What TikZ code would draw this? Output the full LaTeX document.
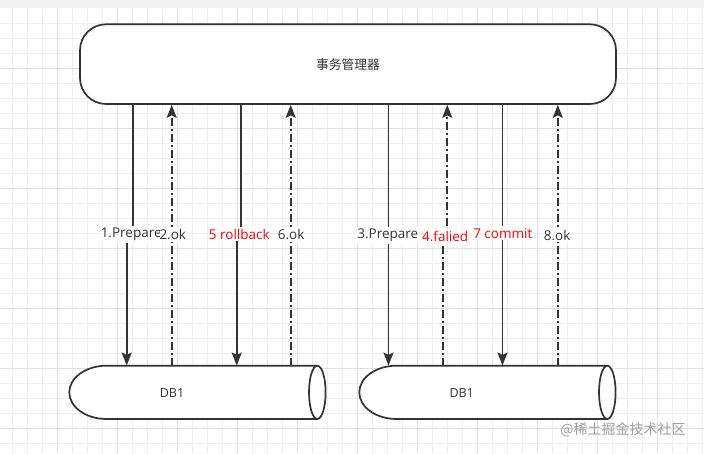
\documentclass[tikz,border=0pt]{standalone}
\usepackage{fontspec}
\setmainfont{Open Sans}
\newfontfamily\cjk{Noto Sans CJK SC}
\usetikzlibrary{arrows.meta}
\definecolor{ln}{HTML}{333333}
\definecolor{txt}{HTML}{333333}
\definecolor{rd}{HTML}{FF0000}
\definecolor{gmin}{HTML}{EEEEEE}
\definecolor{gmaj}{HTML}{E0E0E0}
\definecolor{band}{HTML}{F0F0F0}
\definecolor{wmc}{HTML}{A0A0A0}
\begin{document}
\begin{tikzpicture}[x=1pt,y=-1pt,
  shp/.style={draw=ln, line width=1.7pt, fill=white},
  solidarr/.style={draw=ln, line width=1.8pt, -{Stealth[length=13pt,width=10pt,inset=2.5pt]}},
  dasharr/.style={solidarr, dash pattern=on 8pt off 3pt on 2pt off 3pt},
  lbl/.style={fill=white, inner xsep=0pt, inner ysep=2pt, font=\fontsize{13.5}{15}\selectfont, text=txt},
  rlbl/.style={lbl, text=rd},
  dbtext/.style={inner sep=0pt, font=\fontsize{12.5}{14}\selectfont, text=txt},
]
\useasboundingbox (0,0) rectangle (704,453);
% background and grid
\fill[white] (0,0) rectangle (704,453);
\fill[band] (0,0) rectangle (704,8.3);
\foreach \x in {12.3,27.3,...,703} \draw[gmin, line width=1pt] (\x,8.3) -- (\x,453);
\foreach \y in {23.3,38.3,...,453} \draw[gmin, line width=1pt] (0,\y) -- (704,\y);
\foreach \x in {57.3,117.3,...,703} \draw[gmaj, line width=1pt] (\x,8.3) -- (\x,453);
\foreach \y in {68.3,128.3,...,453} \draw[gmaj, line width=1pt] (0,\y) -- (704,\y);
% transaction manager
\node[shp, rounded corners=26pt, minimum width=536pt, minimum height=79.7pt, inner sep=0pt,
      font=\cjk\fontsize{12.8}{14}\selectfont, text=txt] (tm) at (348,64.15) {事务管理器};
% databases (bounds) and their shapes
\node[minimum width=248pt, minimum height=53.3pt, inner sep=0pt] (db1) at (193.3,392.35) {};
\node[minimum width=248pt, minimum height=53.3pt, inner sep=0pt] (db2) at (483.3,392.35) {};
\draw[shp] (317.3,365.7) -- (106.5,365.7) arc[start angle=270, end angle=90, x radius=37.2, y radius=26.65] -- (317.3,419);
\draw[shp] (317.3,392.35) ellipse[x radius=8.3, y radius=26.65];
\draw[shp] (607.3,365.7) -- (396.5,365.7) arc[start angle=270, end angle=90, x radius=37.2, y radius=26.65] -- (607.3,419);
\draw[shp] (607.3,392.35) ellipse[x radius=8.3, y radius=26.65];
\node[dbtext] (db1t) at (172,393) {DB1};
\node[dbtext] (db2t) at (461.7,393) {DB1};
% connector x positions
\coordinate (j) at (0,234.3);
\coordinate (a1t) at (133.3,0); \coordinate (a1b) at (126.7,0);
\coordinate (a2) at (171.7,0);
\coordinate (a5t) at (241,0); \coordinate (a5b) at (236.7,0);
\coordinate (a6) at (290.7,0);
\coordinate (a3) at (388.5,0);
\coordinate (a4t) at (447.3,0); \coordinate (a4b) at (442.7,0);
\coordinate (a7) at (502.5,0);
\coordinate (a8) at (557.8,0);
% connectors
\draw[solidarr] (tm.south -| a1t) -- (a1t |- j) -- (a1b |- j) -- (db1.north -| a1b);
\draw[dasharr] (db1.north -| a2) -- (tm.south -| a2);
\draw[solidarr] (tm.south -| a5t) -- (a5t |- j) -- (a5b |- j) -- (db1.north -| a5b);
\draw[dasharr] (db1.north -| a6) -- (tm.south -| a6);
\draw[solidarr] (tm.south -| a3) -- (db2.north -| a3);
\draw[dasharr] (db2.north -| a4b) -- (a4b |- j) -- (a4t |- j) -- (tm.south -| a4t);
\draw[solidarr] (tm.south -| a7) -- (db2.north -| a7);
\draw[dasharr] (db2.north -| a8) -- (tm.south -| a8);
% labels
\node[lbl] (l1) at (131.2,234.3) {1.Prepare};
\node[lbl] (l2) at (172.8,234.3) {2.ok};
\node[rlbl] (l5) at (239.3,234.3) {5 rollback};
\node[lbl] (l6) at (291.2,234.3) {6.ok};
\node[lbl] (l3) at (387.8,235.7) {3.Prepare};
\node[rlbl] (l4) at (445.2,236) {4.falied};
\node[rlbl] (l7) at (502.8,233.3) {7 commit};
\node[lbl] (l8) at (557.2,235) {8.ok};
% watermark
\node[inner sep=0pt, font=\cjk\fontsize{14}{16}\selectfont, text=wmc] (wm) at (623,430) {@稀土掘金技术社区};
\end{tikzpicture}
\end{document}
